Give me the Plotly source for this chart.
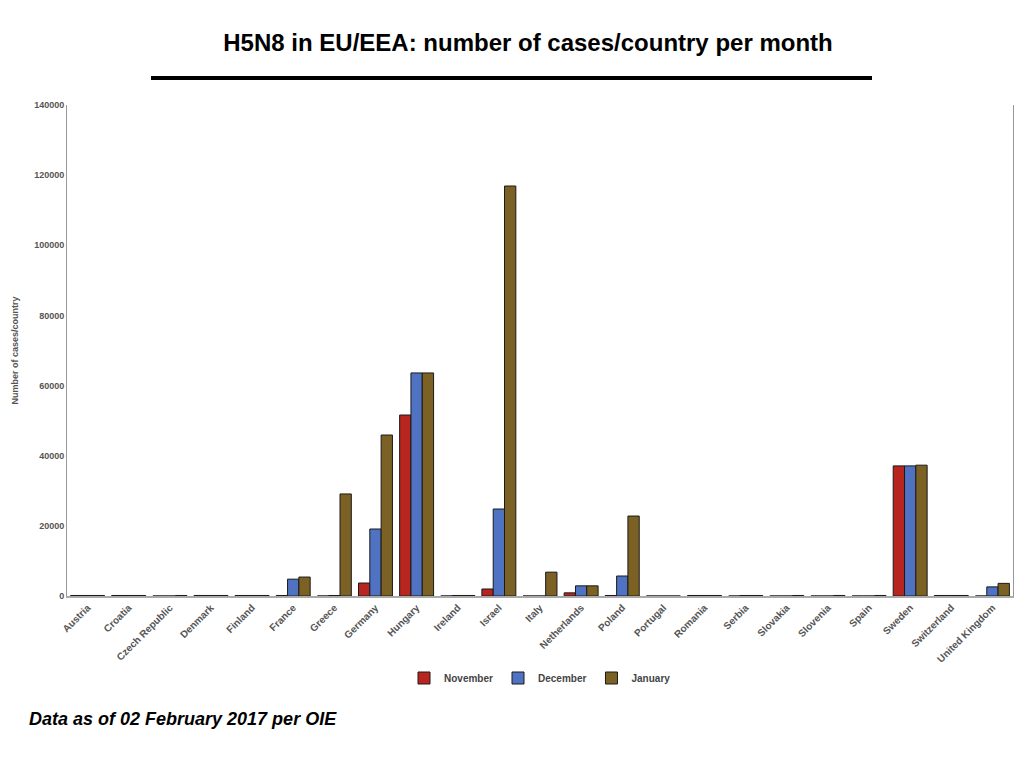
import plotly.graph_objects as go

countries = ['Austria', 'Croatia', 'Czech Republic', 'Denmark', 'Finland', 'France',
             'Greece', 'Germany', 'Hungary', 'Ireland', 'Israel', 'Italy',
             'Netherlands', 'Poland', 'Portugal', 'Romania', 'Serbia', 'Slovakia',
             'Slovenia', 'Spain', 'Sweden', 'Switzerland', 'United Kingdom']

november = [150, 150, 0, 150, 150, 150, 0, 3700, 51600, 0, 2000, 0,
            900, 150, 0, 150, 0, 0, 0, 0, 37100, 150, 0]
december = [150, 150, 0, 150, 150, 4800, 150, 19100, 63600, 150, 24800, 0,
            2900, 5700, 0, 150, 150, 0, 0, 0, 37100, 150, 2600]
january = [150, 150, 150, 150, 150, 5400, 29100, 45900, 63600, 150, 116900, 6800,
           2900, 22800, 0, 150, 150, 150, 150, 150, 37300, 150, 3600]

months = ['November', 'December', 'January']
colors = ['#B8241E', '#5072C2', '#7B6224']

# page body has an 8px margin, so the figure is drawn 8px in from the window edge
W, H = 1008, 752
L, T, R, B = 59, 97, 3, 164
pw, ph = W - L - R, H - T - B


def px_x(x):
    return (x - 8 - L) / pw


def px_y(y):
    return (H - B - (y - 8)) / ph


fig = go.Figure()
for name, vals, col in zip(months, [november, december, january], colors):
    fig.add_trace(go.Bar(
        x=countries,
        y=vals,
        name=name,
        marker=dict(color=col, line=dict(color='#1a1a1a', width=1)),
    ))

fig.update_layout(
    width=W,
    height=H,
    paper_bgcolor='white',
    plot_bgcolor='white',
    barmode='group',
    bargap=0.175,
    bargroupgap=0,
    margin=dict(l=L, r=R, t=T, b=B, autoexpand=False),
    font=dict(family='Liberation Sans, Arial, sans-serif', color='#555555'),
    showlegend=True,
    legend=dict(
        orientation='h',
        x=0.5, xanchor='center',
        y=px_y(678), yanchor='middle',
        font=dict(size=10, color='#444444', weight='bold'),
        itemwidth=30,
        traceorder='normal',
    ),
    title=dict(
        text='<b>H5N8 in EU/EEA: number of cases/country per month</b>',
        x=px_x(528) * pw / W + L / W, xanchor='center',
        y=1 - (43 - 8) / H, yanchor='middle',
        font=dict(size=24, color='black'),
    ),
    xaxis=dict(
        tickangle=-45,
        tickfont=dict(size=10, color='#555555', weight='bold'),
        showline=True, linecolor='#aaaaaa', linewidth=2,
        mirror=False,
        ticks='',
        showgrid=False,
    ),
    yaxis=dict(
        range=[0, 140000],
        dtick=20000,
        tickformat='d',
        tickfont=dict(size=9, color='#555555', weight='bold'),
        title=dict(text='Number of cases/country',
                   font=dict(size=9, color='#555555', weight='bold'), standoff=14),
        showline=True, linecolor='#999999', linewidth=1,
        mirror=True,
        showgrid=False,
        zeroline=False,
        ticks='',
    ),
    shapes=[
        dict(type='line', xref='paper', yref='paper',
             x0=px_x(151), x1=px_x(872),
             y0=px_y(78), y1=px_y(78),
             line=dict(color='black', width=4)),
    ],
    annotations=[
        dict(text='<b><i>Data as of 02 February 2017 per OIE</i></b>',
             xref='paper', yref='paper',
             x=px_x(27), xanchor='left',
             y=px_y(719), yanchor='middle',
             showarrow=False,
             font=dict(size=18, color='black')),
    ],
)

fig.write_html('out.html')
